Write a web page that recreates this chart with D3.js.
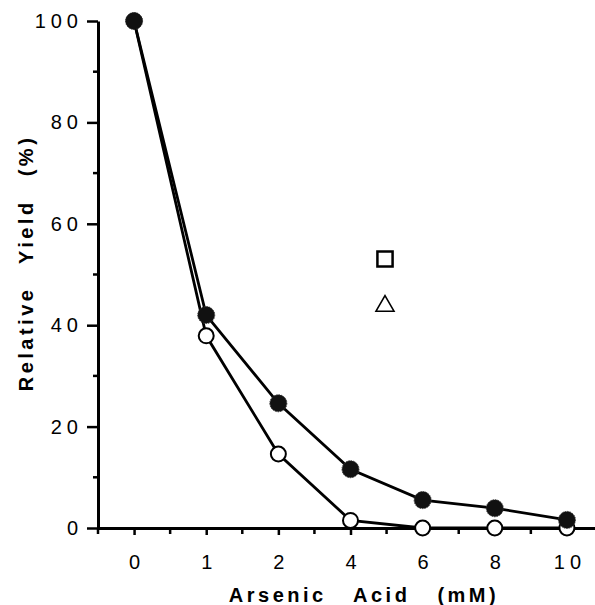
<!DOCTYPE html>
<html>
<head>
<meta charset="utf-8">
<script src="https://cdn.jsdelivr.net/npm/d3@7"></script>
<style>
  body { margin: 0; background: #fff; }
  svg { display: block; font-family: "Liberation Sans", Arial, sans-serif; }
</style>
</head>
<body>
<div class="chart"></div>
<script>
const width = 595
const height = 605

// arsenic acid concentration (mM), shown as evenly spaced categories
const conc = ["0", "1", "2", "4", "6", "8", "10"]
const filledYield = [100, 42, 24.6, 11.6, 5.5, 3.9, 1.6]   // closed circles
const openYield = [100, 37.9, 14.6, 1.5, 0, 0, 0]          // open circles
const yTicks = [0, 20, 40, 60, 80, 100]
const yMinor = [10, 30, 50, 70, 90]
const legendMarks = ["square", "triangle"]   // stray key symbols, no text

const svg = d3.select('.chart').append('svg')
    .attr('width', width)
    .attr('height', height)
    .attr('viewBox', [0, 0, width, height])

const x = d3.scalePoint()
    .domain(conc)
    .range([98, 603])
    .padding(0.5)

const y = d3.scaleLinear()
    .domain([0, 100])
    .range([528, 21])

// x axis
const xAxis = svg.append('g')
    .attr('transform', `translate(0, ${y(0)})`)
    .call(d3.axisBottom(x).tickSize(7).tickPadding(20).tickSizeOuter(0))
xAxis.select('.domain').attr('stroke-width', 3)
xAxis.selectAll('.tick line').attr('stroke-width', 2.5)
xAxis.selectAll('.tick text')
    .attr('font-size', 20)
    .attr('letter-spacing', 5)
    .attr('dx', 2.5)
    .attr('fill', '#000')

// minor ticks halfway between categories (also at the corner)
const step = x.step()
const xMinor = d3.range(conc.length + 1).map(i => x(conc[0]) - step / 2 + i * step)
svg.append('g')
    .selectAll('line')
    .data(xMinor)
    .join('line')
    .attr('x1', d => d).attr('x2', d => d)
    .attr('y1', y(0)).attr('y2', y(0) + 6)
    .attr('stroke', '#000')
    .attr('stroke-width', 2.5)

// y axis
const yAxis = svg.append('g')
    .attr('transform', `translate(98, 0)`)
    .call(d3.axisLeft(y).tickValues(yTicks).tickSize(11).tickPadding(4).tickSizeOuter(0))
yAxis.select('.domain').attr('stroke-width', 3)
yAxis.selectAll('.tick line').attr('stroke-width', 2.5)
yAxis.selectAll('.tick text')
    .attr('font-size', 20)
    .attr('letter-spacing', 5)
    .attr('fill', '#000')

svg.append('g')
    .selectAll('line')
    .data(yMinor)
    .join('line')
    .attr('x1', 93).attr('x2', 98)
    .attr('y1', d => y(d)).attr('y2', d => y(d))
    .attr('stroke', '#000')
    .attr('stroke-width', 2.5)

// axis titles
svg.append('text')
    .attr('x', 364)
    .attr('y', 602)
    .attr('text-anchor', 'middle')
    .attr('font-size', 20)
    .attr('font-weight', 'bold')
    .attr('letter-spacing', 3.5)
    .attr('word-spacing', 18)
    .text('Arsenic Acid (mM)')

svg.append('text')
    .attr('transform', 'translate(33, 263) rotate(-90)')
    .attr('text-anchor', 'middle')
    .attr('font-size', 20)
    .attr('font-weight', 'bold')
    .attr('letter-spacing', 3.5)
    .attr('word-spacing', 14)
    .text('Relative Yield (%)')

// series
const line = d3.line()
    .x((d, i) => x(conc[i]))
    .y(d => y(d))

svg.append('path')
    .datum(openYield)
    .attr('d', line)
    .attr('fill', 'none')
    .attr('stroke', '#000')
    .attr('stroke-width', 2.8)

svg.append('path')
    .datum(filledYield)
    .attr('d', line)
    .attr('fill', 'none')
    .attr('stroke', '#000')
    .attr('stroke-width', 2.8)

svg.append('g')
    .selectAll('circle')
    .data(openYield)
    .join('circle')
    .attr('cx', (d, i) => x(conc[i]))
    .attr('cy', d => y(d))
    .attr('r', 7.5)
    .attr('fill', '#fff')
    .attr('stroke', '#000')
    .attr('stroke-width', 2)

svg.append('g')
    .selectAll('circle')
    .data(filledYield)
    .join('circle')
    .attr('cx', (d, i) => x(conc[i]))
    .attr('cy', d => y(d))
    .attr('r', 8.5)
    .attr('fill', '#111')
    .attr('stroke', '#333')
    .attr('stroke-width', 1)
    .attr('stroke-dasharray', '1.5 1')

// leftover key symbols
const sym = { square: d3.symbolSquare, triangle: d3.symbolTriangle }
svg.append('g')
    .selectAll('path')
    .data(legendMarks)
    .join('path')
    .attr('transform', (d, i) => `translate(${385}, ${259 + i * 47})`)
    .attr('d', d => d3.symbol(sym[d], d === 'square' ? 230 : 140)())
    .attr('fill', 'none')
    .attr('stroke', '#000')
    .attr('stroke-width', (d, i) => i === 0 ? 2.5 : 1.6)
</script>
</body>
</html>
